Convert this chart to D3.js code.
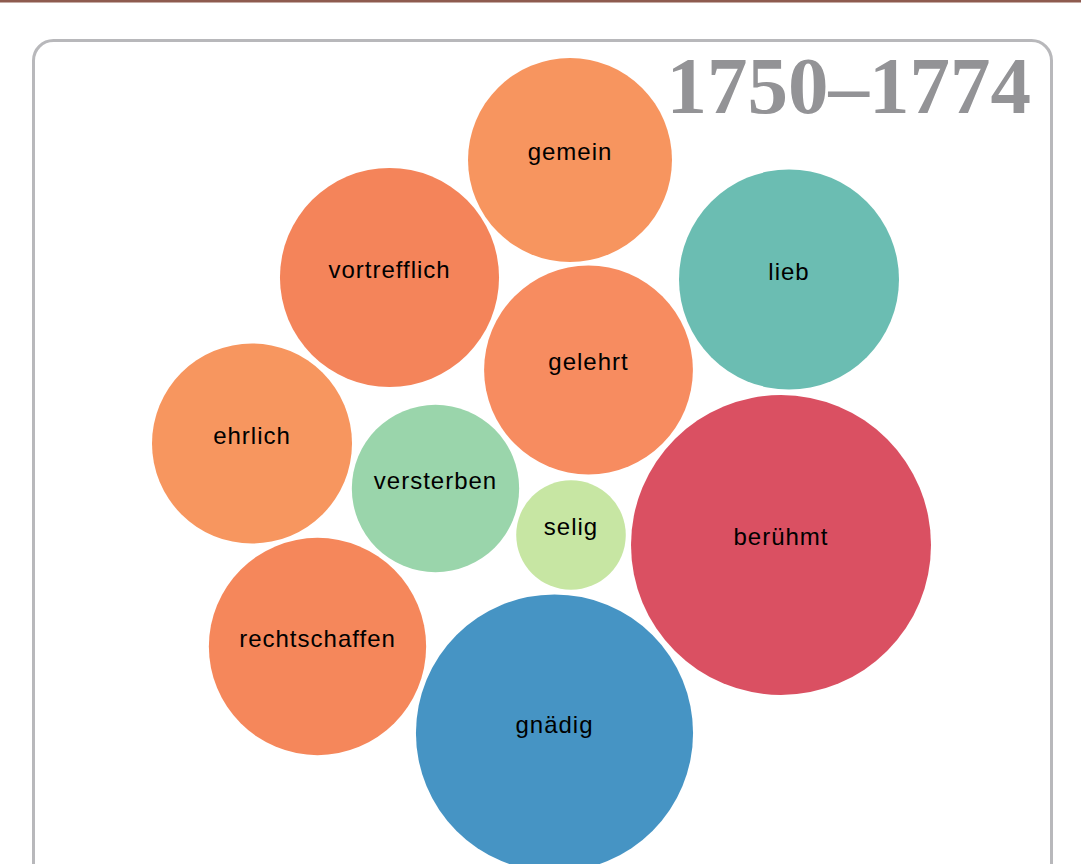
<!DOCTYPE html>
<html>
<head>
<meta charset="utf-8">
<script src="https://cdn.jsdelivr.net/npm/d3@7"></script>
<style>
html, body { margin: 0; padding: 0; background: #fff; overflow: hidden; }
</style>
</head>
<body>
<script>
// words of the period, their counts and where they sit in the packed layout
const words = ["gemein", "vortrefflich", "lieb", "gelehrt", "ehrlich", "versterben", "selig", "berühmt", "rechtschaffen", "gnädig"];
const counts = [104, 120, 121, 109, 100, 70, 30, 225, 118, 192];
const posX = [0.30, -1.505, 2.49, 0.485, -2.88, -1.045, 0.31, 2.41, -2.225, 0.145];
const posY = [-3.00, -1.825, -1.805, -0.90, -0.165, 0.285, 0.75, 0.85, 1.865, 2.73];
const title = "1750–1774";

const palette = ["#f7955f", "#f4845a", "#6bbdb2", "#f78c60", "#f7965f", "#9ad5ab", "#c7e6a3", "#da5062", "#f5875b", "#4694c4"];

const width = 1081,
	height = 864;

let svg = d3.select("body").append("svg")
	.attr("width", width)
	.attr("height", height);

// brown rule at the very top
svg.append("rect")
	.attr("x", 0).attr("y", 0)
	.attr("width", width).attr("height", 2.5)
	.attr("fill", "#8e5b4f");

// panel
svg.append("rect")
	.attr("x", 33.5).attr("y", 40.5)
	.attr("width", 1018).attr("height", 900)
	.attr("rx", 20).attr("ry", 20)
	.attr("fill", "#fff")
	.attr("stroke", "#b8b8bb")
	.attr("stroke-width", 3);

let x = d3.scaleLinear().domain([-5, 5]).range([40, 1040]);
let y = d3.scaleLinear().domain([-5, 5]).range([-40, 960]);
let r = d3.scaleSqrt().domain([0, 225]).range([0, 150]);
let color = d3.scaleOrdinal().domain(words).range(palette);

let data = words.map((w, i) => ({word: w, count: counts[i], x: posX[i], y: posY[i]}));

let node = svg.append("g").selectAll("g")
	.data(data)
	.join("g")
	.attr("transform", d => `translate(${x(d.x)},${y(d.y)})`);

node.append("circle")
	.attr("r", d => r(d.count))
	.attr("fill", d => color(d.word));

node.append("text")
	.attr("text-anchor", "middle")
	.attr("font-family", "'Liberation Sans', Arial, sans-serif")
	.attr("font-size", 24)
	.attr("letter-spacing", 1)
	.attr("fill", "#000")
	.text(d => d.word);

svg.append("text")
	.attr("x", 1031)
	.attr("y", 113)
	.attr("text-anchor", "end")
	.attr("font-family", "'Liberation Serif', 'Times New Roman', serif")
	.attr("font-weight", "bold")
	.attr("font-size", 81)
	.attr("fill", "#939396")
	.text(title);
</script>
</body>
</html>
